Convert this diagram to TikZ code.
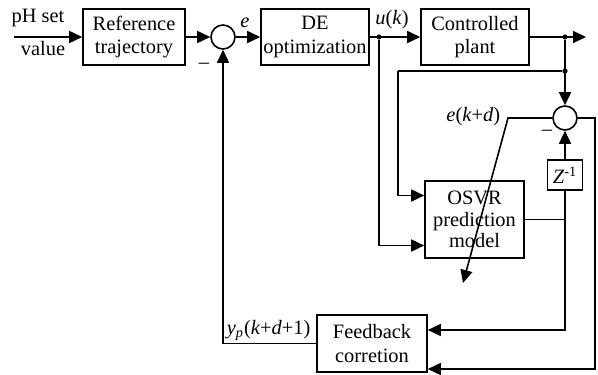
\documentclass[tikz,border=0pt]{standalone}
\usepackage{fontspec}
\setmainfont{Liberation Serif}
\usetikzlibrary{arrows.meta}

\begin{document}
\begin{tikzpicture}[x=0.5pt,y=-0.5pt,line width=0.8pt,
  >={Triangle[length=6.5pt,width=6pt]},
  blk/.style={draw,align=center,inner sep=0pt,font=\fontsize{10.2}{11.8}\selectfont},
  sumc/.style={draw,circle,minimum size=12pt,inner sep=0pt},
  lbl/.style={inner sep=0pt,font=\fontsize{10.2}{11.8}\selectfont},
  jdot/.style={circle,fill,inner sep=0pt,minimum size=2.6pt}]

\useasboundingbox (0,0) rectangle (598,374);

\node[blk,minimum width=51pt,minimum height=28pt] (ref) at (134,37) {Reference\\trajectory};
\node[sumc] (sum1) at (223,37) {};
\node[blk,minimum width=54pt,minimum height=28pt] (de) at (315,37) {DE\\optimization};
\node[blk,minimum width=54pt,minimum height=28pt] (plant) at (475,37) {Controlled\\plant};
\node[sumc] (sum2) at (565,118) {};
\node[blk,minimum width=17.5pt,minimum height=15pt] (zinv) at (565,175) {\textit{Z}\textsuperscript{-1}};
\node[blk,minimum width=49.5pt,minimum height=38.5pt,font=\fontsize{10.2}{10.9}\selectfont] (osvr) at (474.5,219.5) {OSVR\\prediction\\model};
\node[blk,minimum width=55pt,minimum height=28.5pt] (fb) at (372,343.5) {Feedback\\corretion};

\node[lbl] (ph) at (38,18) {pH set};
\node[lbl] (val) at (43,49) {value};
\coordinate (in) at (14,37);
\coordinate (out) at (586,37);
\node[jdot] (uk) at (379,37) {};
\node[jdot] (yk) at (565,37) {};
\node[jdot] (ym) at (565,71) {};
\coordinate (c1) at (398,71);
\coordinate (c2) at (595,118);
\coordinate (c3) at (508,118);
\coordinate (c4) at (463,283);

\draw[->] (in) -- (ref);
\draw[->] (ref) -- (sum1);
\draw[->] (sum1) -- (de);
\draw[->] (de) -- (plant);
\draw[->] (plant) -- (out);
\draw[->] (yk) -- (sum2);
\draw (ym) -- (c1);
\draw[->] (c1) |- ([yshift=12pt]osvr.west);
\draw[->] (uk) |- ([yshift=-13pt]osvr.west);
\draw (osvr.east) -- (osvr.east -| zinv.south);
\draw[->] (zinv) -- (sum2);
\draw[->] (zinv.south) |- ([yshift=6.75pt]fb.east);
\draw[->] (sum2) -- (c2) |- ([yshift=-12.75pt]fb.east);
\draw[->] (sum2) -- (c3) -- (c4);
\draw[->] (fb.west) -| (sum1);

\node[lbl] at (245,23) {\textit{e}};
\node[lbl] at (392,20) {\textit{u}(\textit{k})};
\node[lbl,anchor=east] at (501,117) {\textit{e}(\textit{k}+\textit{d})};
\node[lbl,anchor=south west] at (226,341) {\textit{y}\textsubscript{\textit{p}}(\textit{k}+\textit{d}+1)};
\node[lbl] at (204,66) {\textendash};
\node[lbl] at (547,133) {\textendash};
\end{tikzpicture}
\end{document}
